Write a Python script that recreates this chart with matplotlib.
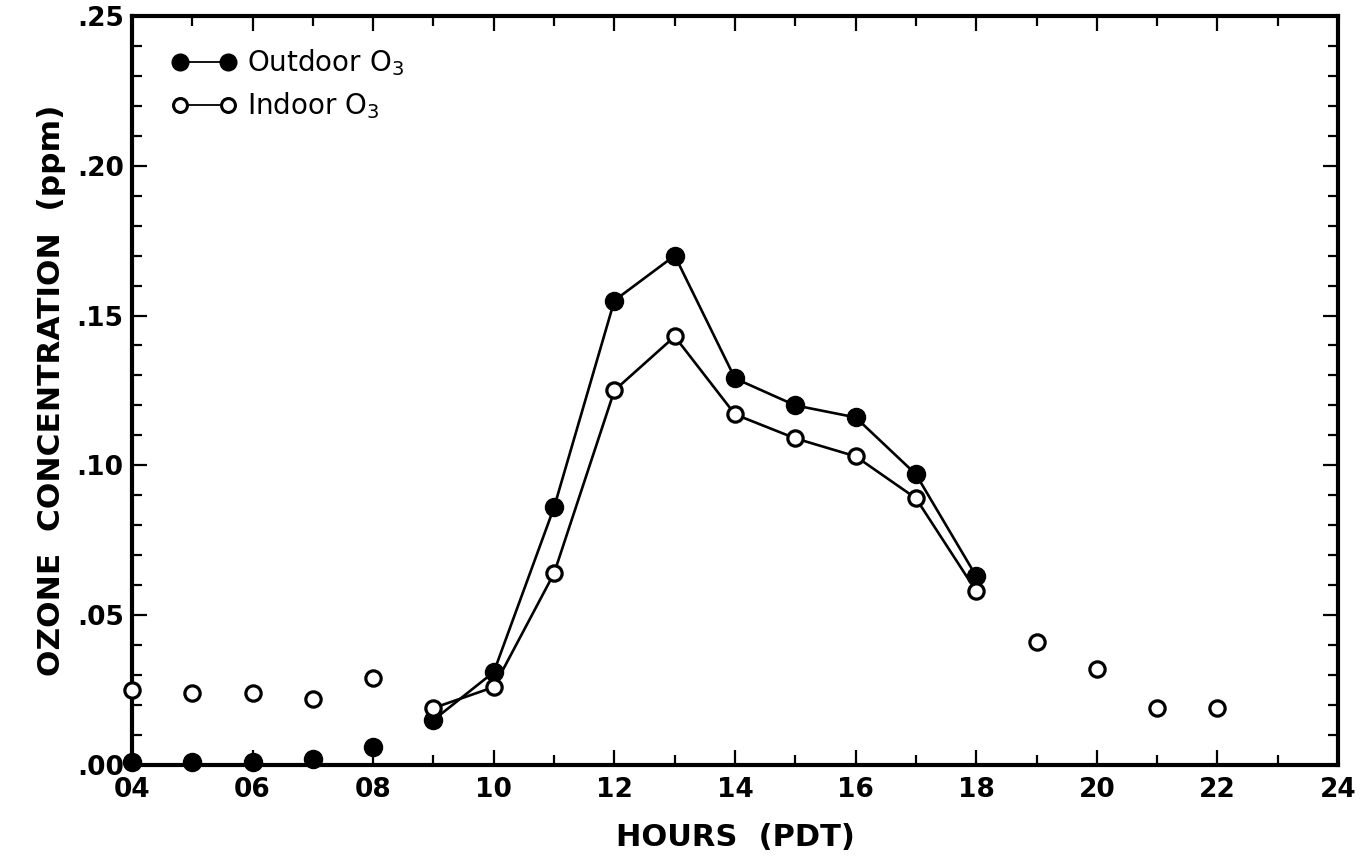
import matplotlib
matplotlib.use("Agg")
import matplotlib.pyplot as plt
from matplotlib.ticker import FuncFormatter, MultipleLocator

# --- data ---------------------------------------------------------------
hours = [4, 5, 6, 7, 8, 9, 10, 11, 12, 13, 14, 15, 16, 17, 18]
outdoor_o3 = [0.001, 0.001, 0.001, 0.002, 0.006, 0.015, 0.031, 0.086,
              0.155, 0.170, 0.129, 0.120, 0.116, 0.097, 0.063]

indoor_hours = [4, 5, 6, 7, 8, 9, 10, 11, 12, 13, 14, 15, 16, 17, 18,
                19, 20, 21, 22]
indoor_o3 = [0.025, 0.024, 0.024, 0.022, 0.029, 0.019, 0.026, 0.064,
             0.125, 0.143, 0.117, 0.109, 0.103, 0.089, 0.058,
             0.041, 0.032, 0.019, 0.019]

# only 09..18 are joined by lines
LINE_START, LINE_END = 9, 18

plt.rcParams["font.family"] = ["DejaVu Sans"]

fig = plt.figure(figsize=(13.69, 8.63), dpi=100)
ax = fig.add_axes([0.0964, 0.1136, 0.881, 0.868])

out_line = [(h, v) for h, v in zip(hours, outdoor_o3) if LINE_START <= h <= LINE_END]
in_line = [(h, v) for h, v in zip(indoor_hours, indoor_o3) if LINE_START <= h <= LINE_END]

ax.plot([p[0] for p in out_line], [p[1] for p in out_line], "-", color="black", lw=1.9, zorder=2)
ax.plot([p[0] for p in in_line], [p[1] for p in in_line], "-", color="black", lw=1.9, zorder=2)

ax.plot(hours, outdoor_o3, "o", ms=13, color="black", mec="black", clip_on=False, zorder=3)
ax.plot(indoor_hours, indoor_o3, "o", ms=11, mfc="white", mec="black", mew=2.3,
        clip_on=False, zorder=4)

# legend handles: marker-line-marker
h_out, = ax.plot([], [], "-o", color="black", lw=1.3, ms=12, label="Outdoor O$_3$")
h_in, = ax.plot([], [], "-o", color="black", lw=1.3, ms=10, mfc="white", mew=2.2,
                label="Indoor O$_3$")
ax.legend(handles=[h_out, h_in], loc="upper left", frameon=False, numpoints=2,
          fontsize=20, handlelength=2.33, handletextpad=0.38, labelspacing=0.45,
          borderpad=0, borderaxespad=0, bbox_to_anchor=(0.033, 0.958))

ax.set_xlim(4, 24)
ax.set_ylim(0, 0.25)
ax.xaxis.set_major_locator(MultipleLocator(2))
ax.xaxis.set_minor_locator(MultipleLocator(1))
ax.yaxis.set_major_locator(MultipleLocator(0.05))
ax.yaxis.set_minor_locator(MultipleLocator(0.01))
ax.xaxis.set_major_formatter(FuncFormatter(lambda x, _: f"{int(round(x)):02d}"))
ax.yaxis.set_major_formatter(FuncFormatter(lambda y, _: f"{y:.2f}".lstrip("0")))

ax.tick_params(which="both", direction="in", top=True, right=True, width=1.6,
               labelsize=19, color="black")
ax.tick_params(axis="x", which="major", length=11, pad=9)
ax.tick_params(axis="y", which="major", length=11, pad=6)
ax.tick_params(which="minor", length=7)
for lab in ax.get_xticklabels() + ax.get_yticklabels():
    lab.set_fontweight("bold")

for sp in ax.spines.values():
    sp.set_linewidth(3)

ax.set_xlabel("HOURS  (PDT)", fontsize=22, fontweight="bold", labelpad=14)
ax.set_ylabel("OZONE  CONCENTRATION  (ppm)", fontsize=22.5, fontweight="bold", labelpad=8)

fig.savefig("out.png", dpi=100)
